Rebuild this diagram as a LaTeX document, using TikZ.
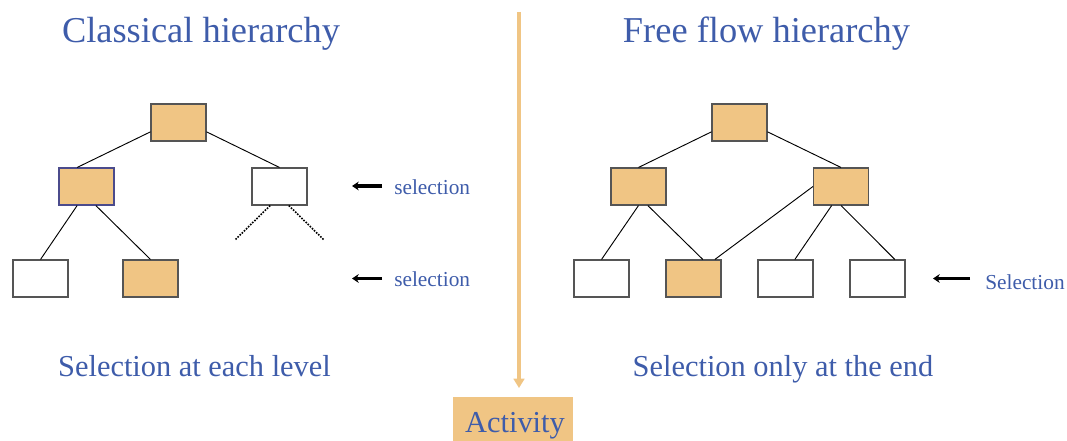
\documentclass[tikz,border=0pt]{standalone}
\usepackage{fontspec}
\setmainfont{Liberation Serif}
\usetikzlibrary{arrows.meta}

\definecolor{boxfill}{RGB}{240,197,132}
\definecolor{txtblue}{RGB}{62,92,170}
\definecolor{boxline}{RGB}{85,85,85}

\tikzset{
  box/.style={draw=boxline, line width=0.8pt, minimum width=41.25pt, minimum height=27.75pt, inner sep=0pt},
  chosen/.style={box, fill=boxfill},
  link/.style={line width=0.7pt},
  pick/.style={line width=2.9pt, -{Stealth[length=5pt,width=6.5pt]}},
  lbl/.style={text=txtblue, font=\fontsize{16}{18}\selectfont, anchor=base west, inner sep=0pt},
  heading/.style={text=txtblue, font=\fontsize{27.3}{32}\selectfont, anchor=base, inner sep=0pt},
  caption/.style={text=txtblue, font=\fontsize{22.8}{26}\selectfont, anchor=base, inner sep=0pt},
}

\begin{document}
\begin{tikzpicture}[x=0.75pt,y=-0.75pt]
\useasboundingbox (0,0) rectangle (1067,441);

% titles
\node[heading] (tl) at (201,42.3) {Classical hierarchy};
\node[heading] (tr) at (766.5,42.3) {Free flow hierarchy};

% left tree
\node[chosen] (l0) at (178.5,122.5) {};
\node[chosen,draw={rgb,255:red,75;green,75;blue,140}] (l1) at (86.5,186.5) {};
\node[box] (l2) at (279.5,186.5) {};
\node[box] (l3) at (40.5,278.5) {};
\node[chosen] (l4) at (150.5,278.5) {};

\draw[link] ([yshift=-7pt]l0.west) -- ([xshift=-7pt]l1.north);
\draw[link] ([yshift=-7pt]l0.east) -- (l2.north);
\draw[link] ([xshift=-7pt]l1.south) -- (l3.north);
\draw[link] ([xshift=7pt]l1.south) -- (l4.north);

\coordinate (d1) at (235,240);
\coordinate (d2) at (324,240);
\draw[line width=1.2pt,densely dotted] ([xshift=-7pt]l2.south) -- (d1);
\draw[line width=1.2pt,densely dotted] ([xshift=7pt]l2.south) -- (d2);

% selection marks
\node[lbl] (s1) at (394,195) {selection};
\node[lbl] (s2) at (394,286.5) {selection};
\coordinate (a1) at (382,186);
\coordinate (a2) at (382,278.5);
\draw[pick] (a1) -- ++(-30,0);
\draw[pick] (a2) -- ++(-30,0);

% divider
\coordinate (vtop) at (519,12);
\node[fill=boxfill, text=txtblue, font=\fontsize{22.8}{26}\selectfont, minimum width=90.5pt, minimum height=37.5pt, inner sep=0pt] (act) at (513,422) {};
\node[text=txtblue, font=\fontsize{22.8}{26}\selectfont, anchor=base, inner sep=0pt] (actlbl) at (515,432.7) {Activity};
\draw[boxfill, line width=3pt, -{Triangle[length=7pt,width=8pt]}, shorten >=6.5pt] (vtop) -- (vtop |- act.north);

% right tree
\node[chosen] (r0) at (739.5,122.5) {};
\node[chosen] (r1) at (638.5,186.5) {};
\node[chosen] (r2) at (841,186.5) {};
\node[box] (r3) at (601.5,278.5) {};
\node[chosen] (r4) at (693.5,278.5) {};
\node[box] (r5) at (785.5,278.5) {};
\node[box] (r6) at (877.5,278.5) {};

\draw[link] ([yshift=-7pt]r0.west) -- (r1.north);
\draw[link] ([yshift=-7pt]r0.east) -- (r2.north);
\draw[link] (r1.south) -- (r3.north);
\draw[link] ([xshift=7pt]r1.south) -- ([xshift=7pt]r4.north);
\draw[link] (r2.west) -- ([xshift=16pt]r4.north);
\draw[link] ([xshift=-7pt]r2.south) -- ([xshift=7pt]r5.north);
\draw[link] (r2.south) -- ([xshift=13pt]r6.north);

\node[lbl] (s3) at (985,290) {Selection};
\coordinate (a3) at (970,278.5);
\draw[pick] (a3) -- ++(-37,0);

% captions
\node[caption] (bl) at (194.5,376.7) {Selection at each level};
\node[caption] (br) at (783,376.7) {Selection only at the end};

\end{tikzpicture}
\end{document}
